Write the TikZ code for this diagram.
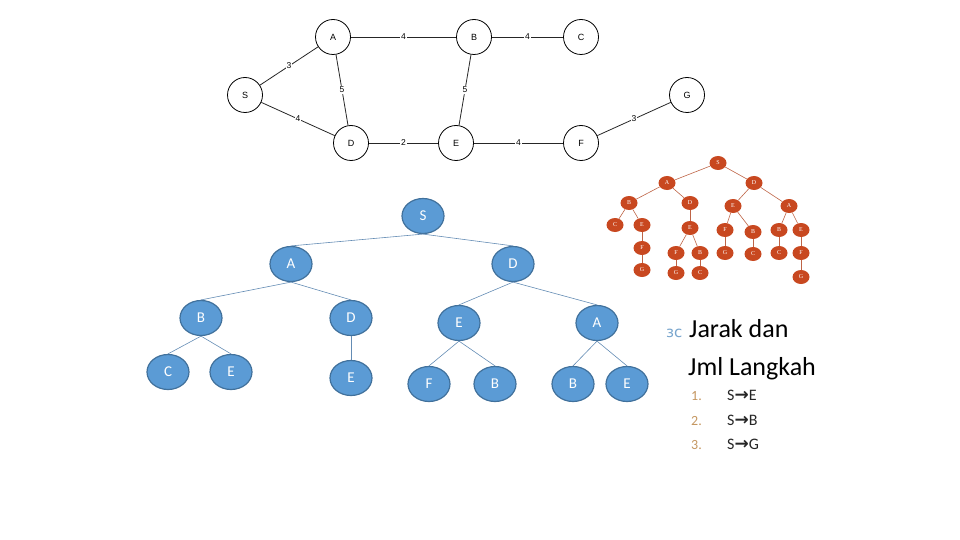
\documentclass[tikz,border=0pt]{standalone}
\usepackage{fontspec}
\setmainfont{Carlito}
\newfontfamily\arialf{Liberation Sans}
\newfontfamily\serifx{Liberation Serif}
\newfontfamily\dejav{DejaVu Sans}
\usetikzlibrary{shapes.geometric}
\definecolor{bluefill}{RGB}{91,155,213}
\definecolor{bluedark}{RGB}{65,113,156}
\definecolor{bedgecol}{RGB}{100,140,180}
\definecolor{orangefill}{RGB}{200,72,32}
\definecolor{orangeedge}{RGB}{190,100,70}
\definecolor{numcol}{RGB}{196,150,96}
\definecolor{bulletcol}{RGB}{120,165,205}
\tikzset{
  gnode/.style={circle,draw=black,line width=0.8pt,minimum size=35pt,inner sep=0pt,font=\arialf\fontsize{9}{9}\selectfont},
  gedge/.style={draw=black!85,line width=0.8pt},
  glabel/.style={fill=white,inner sep=1pt,font=\arialf\fontsize{8.5}{9}\selectfont},
  bnode/.style={ellipse,draw=bluedark,fill=bluefill,line width=1.2pt,minimum width=42pt,minimum height=35pt,inner sep=0pt,text=white,font=\fontsize{15}{15}\selectfont},
  bedge/.style={draw=bedgecol,line width=0.6pt},
  onode/.style={ellipse,fill=orangefill,minimum width=17pt,minimum height=14pt,inner sep=0pt,text=white,font=\serifx\fontsize{6}{6}\selectfont},
  oedge/.style={draw=orangeedge,line width=0.6pt},
  numtxt/.style={anchor=base west,inner sep=0pt,text=numcol,font=\fontsize{14}{14}\selectfont},
  itemtxt/.style={anchor=base west,inner sep=0pt,text=black!85,font=\fontsize{16}{16}\selectfont},
  bigtxt/.style={anchor=base west,inner sep=0pt,font=\fontsize{26}{26}\selectfont},
}
\newcommand{\arr}{{\dejav\bfseries\fontsize{17}{17}\selectfont →}}
\begin{document}
\begin{tikzpicture}[x=1pt,y=-1pt]
\useasboundingbox (0,0) rectangle (960,540);
% ---------- top graph ----------
\node[gnode] (A) at (333,37) {A};
\node[gnode] (B) at (474,37) {B};
\node[gnode] (C) at (581,37) {C};
\node[gnode] (S) at (245,95) {S};
\node[gnode] (G) at (687,95) {G};
\node[gnode] (D) at (351,143) {D};
\node[gnode] (E) at (456,143) {E};
\node[gnode] (F) at (581,143) {F};
\draw[gedge] (A) -- node[glabel] {4} (B);
\draw[gedge] (B) -- node[glabel] {4} (C);
\draw[gedge] (S) -- node[glabel] {3} (A);
\draw[gedge] (A) -- node[glabel] {5} (D);
\draw[gedge] (B) -- node[glabel] {5} (E);
\draw[gedge] (S) -- node[glabel] {4} (D);
\draw[gedge] (D) -- node[glabel] {2} (E);
\draw[gedge] (E) -- node[glabel] {4} (F);
\draw[gedge] (F) -- node[glabel] {3} (G);
% ---------- orange tree ----------
\node[onode] (oS) at (718,163) {S};
\node[onode] (oA) at (667,183) {A};
\node[onode] (oD) at (754,183) {D};
\node[onode] (oB1) at (629,203) {B};
\node[onode] (oD2) at (690,203) {D};
\node[onode] (oE3) at (733,206) {E};
\node[onode] (oA3) at (789,206) {A};
\node[onode] (oC1) at (615,225) {C};
\node[onode] (oE1) at (642,225) {E};
\node[onode] (oE2) at (690,228) {E};
\node[onode] (oF3) at (725,230) {F};
\node[onode] (oB3) at (753,232) {B};
\node[onode] (oB4) at (779,230) {B};
\node[onode] (oE4) at (801,230) {E};
\node[onode] (oF1) at (642,248) {F};
\node[onode] (oF2) at (676,253) {F};
\node[onode] (oB2) at (700,253) {B};
\node[onode] (oG3) at (725,253) {G};
\node[onode] (oC3) at (753,254) {C};
\node[onode] (oC4) at (779,253) {C};
\node[onode] (oF4) at (801,253) {F};
\node[onode] (oG1) at (642,270) {G};
\node[onode] (oG2) at (676,273) {G};
\node[onode] (oC2) at (700,273) {C};
\node[onode] (oG4) at (801,277) {G};
\foreach \p/\c in {oS/oA,oS/oD,oA/oB1,oA/oD2,oD/oE3,oD/oA3,oB1/oC1,oB1/oE1,oD2/oE2,oE3/oF3,oE3/oB3,oA3/oB4,oA3/oE4,oE1/oF1,oF1/oG1,oE2/oF2,oE2/oB2,oF2/oG2,oB2/oC2,oF3/oG3,oB3/oC3,oB4/oC4,oE4/oF4,oF4/oG4}
  \draw[oedge] (\p) -- (\c);
% ---------- blue tree ----------
\node[bnode] (bS) at (423,216) {S};
\node[bnode] (bA) at (291,264) {A};
\node[bnode] (bD) at (513,264) {D};
\node[bnode] (bB) at (201,318) {B};
\node[bnode] (bD2) at (351,318) {D};
\node[bnode] (bE3) at (459,323) {E};
\node[bnode] (bA3) at (597,323) {A};
\node[bnode] (bC1) at (168,372) {C};
\node[bnode] (bE1) at (231,372) {E};
\node[bnode] (bE2) at (351,378) {E};
\node[bnode] (bF3) at (429,384) {F};
\node[bnode] (bB3) at (495,384) {B};
\node[bnode] (bB4) at (573,384) {B};
\node[bnode] (bE4) at (627,384) {E};
\foreach \p/\c in {bS/bA,bS/bD,bA/bB,bA/bD2,bD/bE3,bD/bA3,bB/bC1,bB/bE1,bD2/bE2,bE3/bF3,bE3/bB3,bA3/bB4,bA3/bE4}
  \draw[bedge] (\p.south) -- (\c.north);
% ---------- text ----------
\node[anchor=base west,inner sep=0pt,text=bulletcol,font=\dejav\fontsize{15}{15}\selectfont] (bul) at (666,337) {зc};
\node[bigtxt] (t1) at (689,337) {Jarak dan};
\node[bigtxt] (t2) at (688,375) {Jml Langkah};
\node[numtxt] (n1) at (691,400) {1.};
\node[numtxt] (n2) at (691,425) {2.};
\node[numtxt] (n3) at (691,449) {3.};
\node[itemtxt] (i1) at (727,400) {S\arr E};
\node[itemtxt] (i2) at (727,425) {S\arr B};
\node[itemtxt] (i3) at (727,449) {S\arr G};
\end{tikzpicture}
\end{document}
